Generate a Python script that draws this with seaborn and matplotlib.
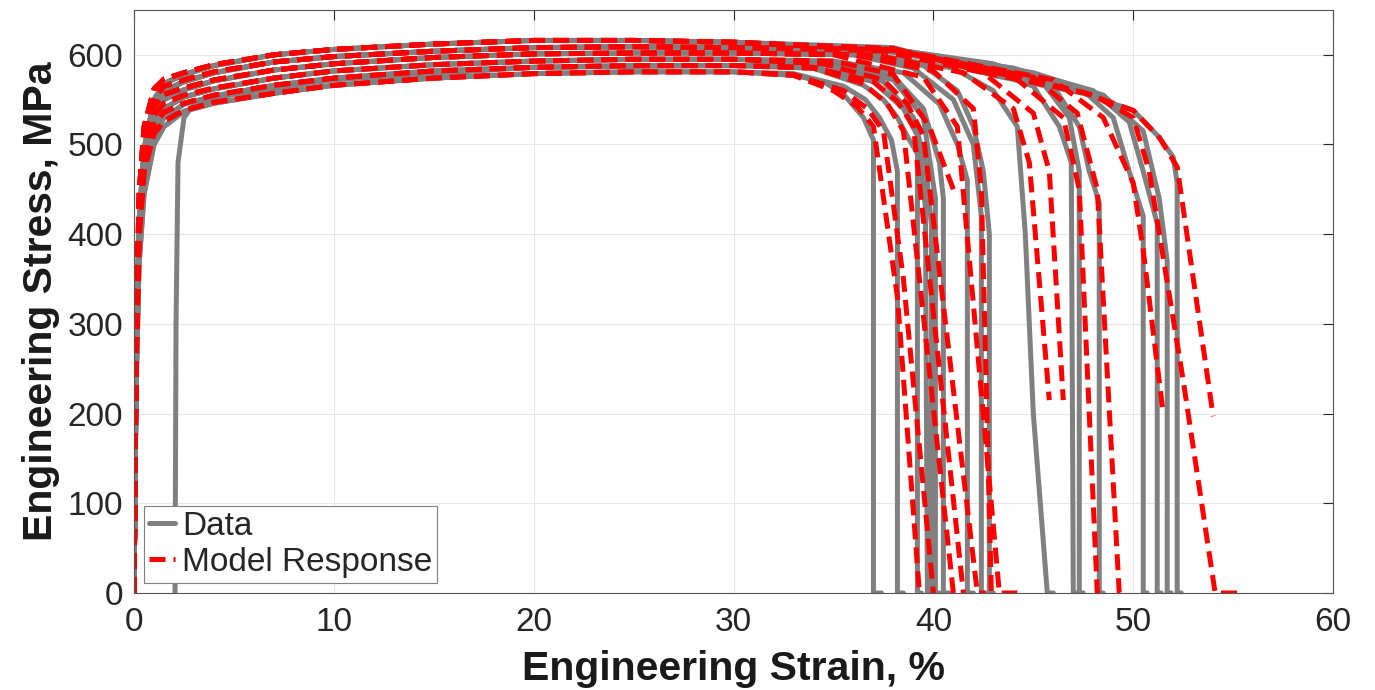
import matplotlib
matplotlib.use("Agg")
import matplotlib.pyplot as plt
import pandas as pd
import seaborn as sns

# Shared early-strain grid (%) for the elastic rise and hardening plateau
rise_strain = [0, 0.1, 0.25, 0.5, 1, 1.5, 2.5, 4, 7, 10, 15, 20, 25, 30]

# Test data: stress (MPa) on the grid, six plateau levels
data_level_1 = [0, 230, 365, 445, 500, 520, 537, 546, 557, 566, 574, 579, 581, 581]
data_level_2 = [0, 235, 375, 455, 510, 530, 545, 554, 566, 574, 582, 586, 588, 588]
data_level_3 = [0, 240, 385, 465, 520, 540, 553, 562, 574, 582, 589, 593, 595, 595]
data_level_4 = [0, 245, 395, 475, 530, 550, 561, 571, 583, 590, 597, 601, 602, 602]
data_level_5 = [0, 250, 405, 485, 540, 560, 570, 580, 592, 598, 604, 608, 609, 608]
data_level_6 = [0, 260, 415, 495, 550, 568, 578, 588, 600, 606, 612, 616, 616, 614]

# Model response: stress (MPa) on the grid, six plateau levels
model_level_1 = [0, 250, 395, 470, 512, 526, 538, 547, 557, 566, 574, 579, 581, 581]
model_level_2 = [0, 255, 405, 480, 522, 536, 546, 555, 566, 574, 582, 586, 588, 588]
model_level_3 = [0, 260, 415, 490, 532, 546, 555, 563, 574, 582, 589, 593, 595, 595]
model_level_4 = [0, 265, 425, 500, 542, 556, 563, 572, 583, 590, 597, 601, 602, 602]
model_level_5 = [0, 270, 435, 510, 552, 565, 572, 581, 592, 598, 604, 608, 609, 608]
model_level_6 = [0, 280, 445, 520, 562, 573, 580, 589, 600, 606, 612, 616, 616, 614]

# Test data: plateau level and necking / failure tail of each specimen
data_curve_level = [1, 1, 2, 2, 3, 3, 3, 4, 4, 4, 5, 5, 5, 6, 5, 6, 6]
data_tail_strain = [
    [33, 34.5, 35.5, 36.5, 37.0, 37.0, 37.4],
    [33, 35.5, 36.6, 37.3, 37.9, 38.2, 38.2, 38.5],
    [34, 36.5, 37.5, 38.2, 38.8, 39.2, 39.2, 39.4],
    [34, 37, 38.5, 39.2, 39.6, 39.7, 40.0],
    [34.5, 37.5, 39, 39.6, 39.9, 39.9, 40.2],
    [35, 38, 39.5, 40.3, 40.5, 40.5, 40.8],
    [35, 38.5, 40.3, 41.2, 41.7, 41.7, 42.0],
    [36, 39, 41, 42, 42.4, 42.4, 42.6],
    [36, 39.5, 41.2, 42.0, 42.5, 42.8, 42.8, 43.0],
    [37, 41, 43, 44.2, 44.6, 45.0, 45.7, 46.0],
    [37, 42, 45, 46.3, 46.9, 47.0, 47.2],
    [38, 42.5, 45.5, 46.8, 47.3, 47.3, 47.5],
    [38, 43, 46, 47.3, 47.8, 48.3, 48.3, 48.5],
    [38, 44, 47.5, 49, 49.8, 50.5, 50.5, 50.7],
    [38, 44, 48, 49.8, 50.5, 51.2, 51.2, 51.4],
    [38, 45, 48.5, 50.5, 51.3, 51.7, 51.7, 51.9],
    [38, 43, 47.5, 50, 51.3, 52, 52.2, 52.2, 52.4],
]
data_tail_stress = [
    [577, 570, 556, 530, 505, 0, 0],
    [579, 565, 550, 530, 505, 470, 0, 0],
    [585, 566, 550, 530, 505, 490, 0, 0],
    [586, 570, 540, 510, 430, 0, 0],
    [590, 570, 530, 480, 410, 0, 0],
    [592, 576, 540, 480, 440, 0, 0],
    [593, 580, 545, 500, 460, 0, 0],
    [600, 585, 550, 500, 420, 0, 0],
    [600, 588, 560, 520, 470, 400, 0, 0],
    [600, 585, 560, 520, 400, 200, 0, 0],
    [606, 588, 565, 520, 480, 0, 0],
    [604, 590, 568, 530, 470, 0, 0],
    [606, 590, 565, 520, 470, 435, 0, 0],
    [606, 585, 560, 530, 470, 420, 0, 0],
    [605, 585, 560, 525, 470, 412, 0, 0],
    [606, 580, 555, 515, 440, 370, 0, 0],
    [608, 577, 557, 538, 508, 486, 457, 0, 0],
]

# One test record starts with a strain offset
shifted_strain = [2.05, 2.1, 2.2, 2.5, 3, 5, 10, 20, 30, 35, 38, 39.5, 40.1, 40.1, 40.3]
shifted_stress = [0, 300, 480, 530, 545, 556, 572, 586, 588, 588, 572, 530, 440, 0, 0]

# Model response: plateau level and failure tail of each simulation
model_curve_level = [1, 1, 2, 2, 3, 3, 4, 4, 4, 5, 5, 6, 5, 6, 6]
model_tail_strain = [
    [33, 35, 36.2, 37, 38.2, 39.3],
    [33, 35.5, 36.7, 37.5, 38.5, 40.0],
    [34, 36.5, 37.7, 38.5, 41.0],
    [34, 37, 38.2, 39, 41.5],
    [34.5, 37.5, 38.7, 39.5, 42.2, 42.6],
    [35, 38, 39.8, 41.0],
    [35, 39.5, 41.2, 43.3, 44.2],
    [36, 40, 42, 42.4, 42.9],
    [37, 41.5, 44, 44.8, 45.8],
    [37, 42.5, 45, 45.8, 46.5],
    [38, 44, 46.5, 47.3, 48.2, 48.4],
    [38, 45, 47.2, 48.2, 49.3, 49.7],
    [38, 46, 48.5, 50.0, 50.5, 51.5],
    [38, 43, 47.5, 50, 51.3, 52.2, 54.0],
    [38, 44, 48, 50, 50.8, 52.5, 54.1, 55.2],
]
model_tail_stress = [
    [577, 560, 542, 520, 330, 0],
    [578, 560, 540, 515, 350, 0],
    [585, 568, 545, 515, 0],
    [586, 570, 548, 520, 0],
    [590, 572, 545, 510, 0, 0],
    [593, 578, 520, 450],
    [600, 575, 520, 0, 0],
    [600, 582, 540, 450, 0],
    [600, 580, 540, 480, 215],
    [606, 580, 535, 470, 215],
    [604, 576, 530, 450, 0, 0],
    [605, 575, 535, 450, 0, 0],
    [606, 572, 530, 457, 382, 200],
    [607, 578, 558, 538, 508, 475, 197],
    [605, 578, 555, 530, 470, 237, 0, 0],
]

data_levels = {1: data_level_1, 2: data_level_2, 3: data_level_3,
               4: data_level_4, 5: data_level_5, 6: data_level_6}
model_levels = {1: model_level_1, 2: model_level_2, 3: model_level_3,
                4: model_level_4, 5: model_level_5, 6: model_level_6}

# Build one long table, one unit per curve
frames = []
for i, (lev, ts, tsig) in enumerate(zip(data_curve_level, data_tail_strain, data_tail_stress)):
    frames.append(pd.DataFrame({"strain": rise_strain + ts, "stress": data_levels[lev] + tsig,
                                "curve": f"data{i}", "kind": "Data"}))
frames.append(pd.DataFrame({"strain": shifted_strain, "stress": shifted_stress,
                            "curve": "data_shift", "kind": "Data"}))
for i, (lev, ts, tsig) in enumerate(zip(model_curve_level, model_tail_strain, model_tail_stress)):
    frames.append(pd.DataFrame({"strain": rise_strain + ts, "stress": model_levels[lev] + tsig,
                                "curve": f"model{i}", "kind": "Model Response"}))
df = pd.concat(frames, ignore_index=True)

sns.set_theme(style="white")
plt.rcParams["font.family"] = ["Liberation Sans", "DejaVu Sans"]

fig = plt.figure(figsize=(13.75, 6.9), dpi=100)
ax = fig.add_axes([0.0975, 0.1406, 0.872, 0.845])

sns.lineplot(data=df, x="strain", y="stress", hue="kind", style="kind", units="curve",
             estimator=None, sort=False, ax=ax, linewidth=3.6,
             palette={"Data": "#808080", "Model Response": "#ff0000"},
             dashes={"Data": "", "Model Response": (3.2, 1.6)})

ax.set_xlim(0, 60)
ax.set_ylim(0, 650)
ax.set_xticks(range(0, 61, 10))
ax.set_yticks(range(0, 601, 100))
ax.grid(True, color="#e6e6e6", linewidth=0.8)
ax.set_axisbelow(True)
for sp in ax.spines.values():
    sp.set_color("#555555")
    sp.set_linewidth(0.8)
ax.tick_params(direction="in", length=7, width=0.8, top=True, right=True,
               labelsize=24, colors="#262626")
ax.tick_params(axis="x", pad=10)
ax.tick_params(axis="y", pad=8)

ax.set_xlabel("Engineering Strain, %", fontsize=29.5, fontweight="bold", color="#1a1a1a")
ax.set_ylabel("Engineering Stress, MPa", fontsize=29.5, fontweight="bold", color="#1a1a1a")
ax.xaxis.set_label_coords(0.5, -0.097)
ax.yaxis.set_label_coords(-0.062, 0.5)

handles, labels = ax.get_legend_handles_labels()
leg = ax.legend(handles[-2:], labels[-2:], loc="lower left", bbox_to_anchor=(0.008, 0.017),
                fontsize=24, handlelength=0.8, handletextpad=0.2, borderpad=0.15,
                labelspacing=0.15, borderaxespad=0, frameon=True, fancybox=False,
                framealpha=1, edgecolor="#7f7f7f")
leg.get_frame().set_linewidth(0.8)

fig.savefig("out.png", dpi=100)
